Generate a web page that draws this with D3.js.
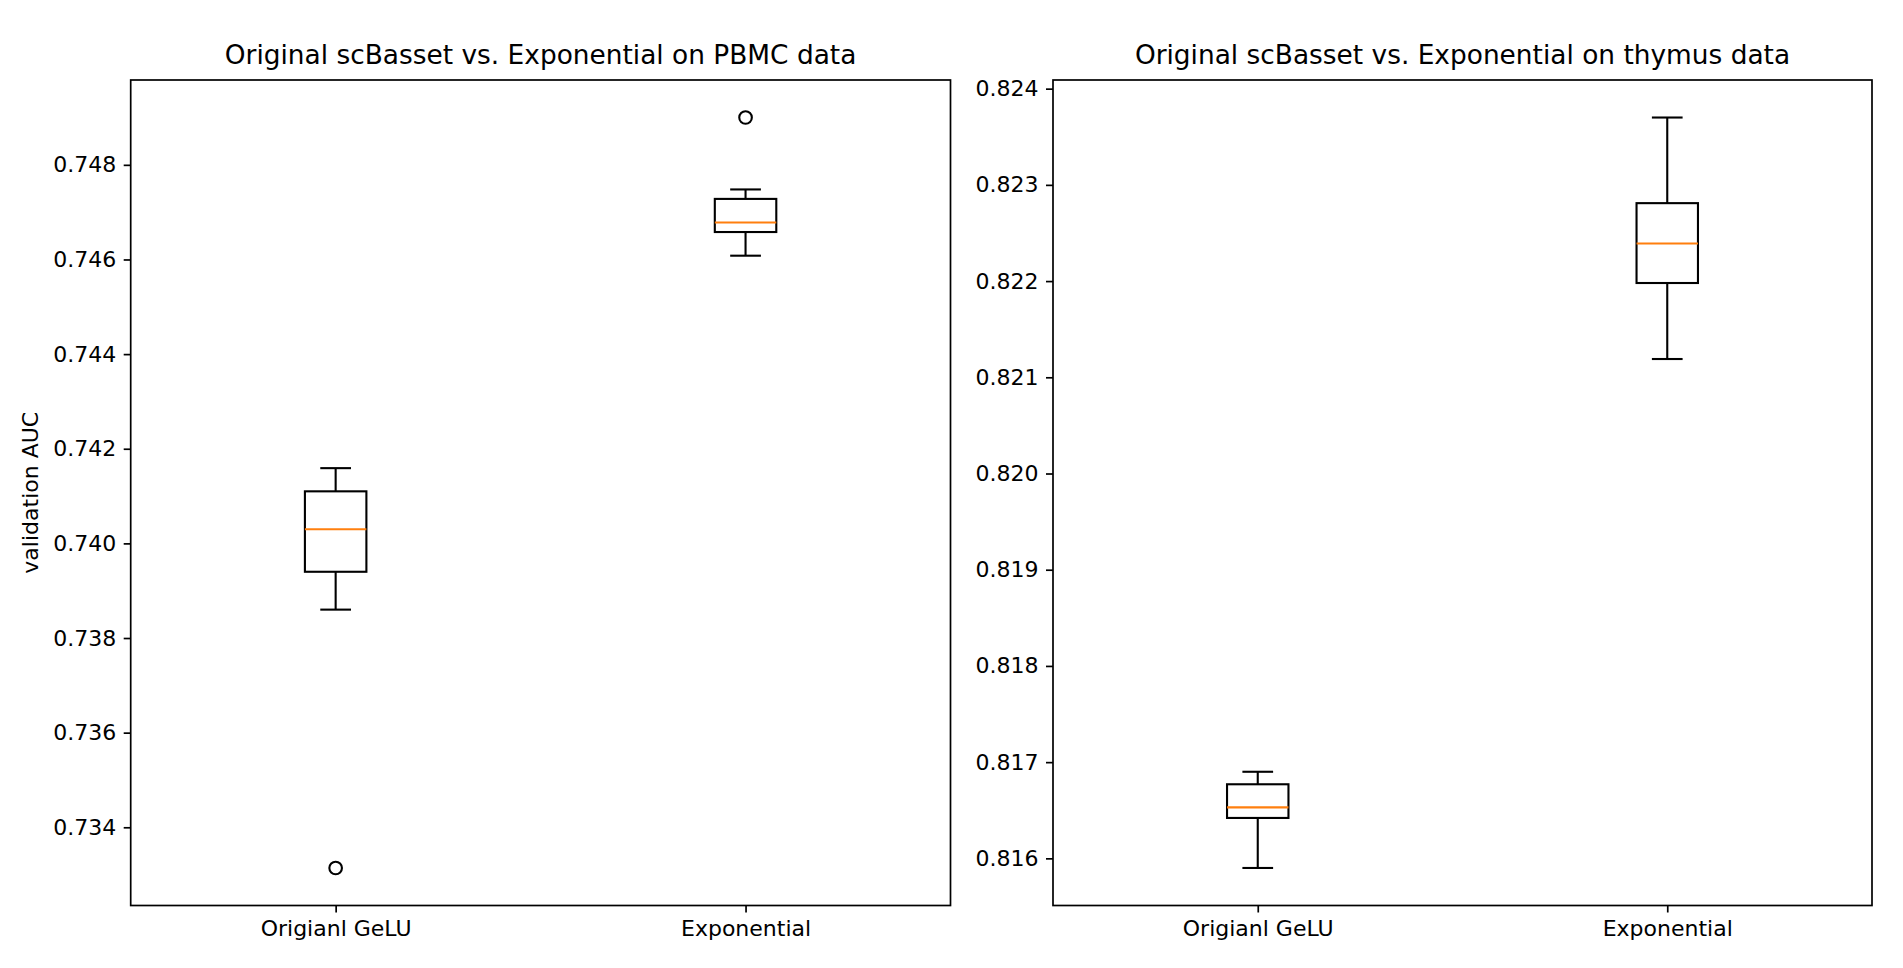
<!DOCTYPE html>
<html>
<head>
<meta charset="utf-8">
<script src="https://cdn.jsdelivr.net/npm/d3@7"></script>
<style>
  body { margin: 0; background: #fff; }
  svg text { font-family: "DejaVu Sans", sans-serif; fill: #000; }
</style>
</head>
<body>
<svg id="chart" width="1903" height="968"></svg>
<script>
// categories
const groups = ["Origianl GeLU", "Exponential"];

// PBMC panel: box stats per group
const pbmcWhiskerLow  = [0.7386, 0.74608];
const pbmcQ1          = [0.7394, 0.74658];
const pbmcMedian      = [0.7403, 0.74678];
const pbmcQ3          = [0.7411, 0.74728];
const pbmcWhiskerHigh = [0.74159, 0.74748];
const pbmcOutliers    = [[0.73314], [0.74900]];
const pbmcTicks       = [0.734, 0.736, 0.738, 0.740, 0.742, 0.744, 0.746, 0.748];

// thymus panel
const thymusWhiskerLow  = [0.81590, 0.82119];
const thymusQ1          = [0.81642, 0.82198];
const thymusMedian      = [0.81653, 0.82239];
const thymusQ3          = [0.81677, 0.82281];
const thymusWhiskerHigh = [0.81690, 0.82370];
const thymusOutliers    = [[], []];
const thymusTicks       = [0.816, 0.817, 0.818, 0.819, 0.820, 0.821, 0.822, 0.823, 0.824];

const svg = d3.select('#chart');
const top_y = 80, bottom_y = 905.5;
const fontSize = 22;
const pt = 2.1;

function drawPanel(left, right, title, lo, q1, med, q3, hi, outl, ticks, ylabel) {
    const boxes = groups.map((g, i) => ({
        name: g, pos: i + 1, lo: lo[i], q1: q1[i], med: med[i], q3: q3[i], hi: hi[i], out: outl[i]
    }));
    const all = boxes.flatMap(b => [b.lo, b.hi].concat(b.out));
    const mn = d3.min(all), mx = d3.max(all);
    const pad = (mx - mn) * 0.05;

    const x = d3.scaleLinear().domain([0.5, 2.5]).range([left, right]);
    const y = d3.scaleLinear().domain([mn - pad, mx + pad]).range([bottom_y, top_y]);
    const bw = x(1.075) - x(0.925);

    const g = svg.append('g');

    boxes.forEach(b => {
        const cx = x(b.pos);
        // whiskers
        g.append('line').attr('x1', cx).attr('x2', cx).attr('y1', y(b.q1)).attr('y2', y(b.lo))
            .attr('stroke', '#000').attr('stroke-width', pt);
        g.append('line').attr('x1', cx).attr('x2', cx).attr('y1', y(b.q3)).attr('y2', y(b.hi))
            .attr('stroke', '#000').attr('stroke-width', pt);
        // caps
        [b.lo, b.hi].forEach(v => {
            g.append('line').attr('x1', cx - bw / 4).attr('x2', cx + bw / 4)
                .attr('y1', y(v)).attr('y2', y(v))
                .attr('stroke', '#000').attr('stroke-width', pt);
        });
        // box
        g.append('rect').attr('x', cx - bw / 2).attr('width', bw)
            .attr('y', y(b.q3)).attr('height', y(b.q1) - y(b.q3))
            .attr('fill', 'none').attr('stroke', '#000').attr('stroke-width', pt);
        // median
        g.append('line').attr('x1', cx - bw / 2).attr('x2', cx + bw / 2)
            .attr('y1', y(b.med)).attr('y2', y(b.med))
            .attr('stroke', '#ff7f0e').attr('stroke-width', pt);
        // fliers
        g.selectAll(null).data(b.out).enter().append('circle')
            .attr('cx', cx).attr('cy', d => y(d)).attr('r', 6.3)
            .attr('fill', 'none').attr('stroke', '#000').attr('stroke-width', pt);
    });

    // axes
    const yAxis = d3.axisLeft(y).tickValues(ticks).tickFormat(d3.format('.3f'))
        .tickSize(7).tickPadding(7.5);
    const gy = svg.append('g').attr('transform', `translate(${left},0)`).call(yAxis);
    gy.select('.domain').remove();
    gy.selectAll('.tick line').attr('stroke-width', 1.7);
    gy.selectAll('.tick text').attr('font-size', fontSize).attr('font-family', 'DejaVu Sans');

    const xAxis = d3.axisBottom(x).tickValues([1, 2]).tickFormat((d, i) => groups[i])
        .tickSize(7).tickPadding(7.5);
    const gx = svg.append('g').attr('transform', `translate(0,${bottom_y})`).call(xAxis);
    gx.select('.domain').remove();
    gx.selectAll('.tick line').attr('stroke-width', 1.7);
    gx.selectAll('.tick text').attr('font-size', fontSize).attr('font-family', 'DejaVu Sans');

    // frame
    svg.append('rect').attr('x', left).attr('y', top_y)
        .attr('width', right - left).attr('height', bottom_y - top_y)
        .attr('fill', 'none').attr('stroke', '#000').attr('stroke-width', 1.7);

    svg.append('text')
        .attr('x', (left + right) / 2).attr('y', 64)
        .attr('text-anchor', 'middle').attr('font-size', fontSize * 1.2)
        .text(title);

    if (ylabel) {
        svg.append('text')
            .attr('transform', `translate(30,${(top_y + bottom_y) / 2}) rotate(-90)`)
            .attr('text-anchor', 'middle').attr('dy', '0.35em')
            .attr('font-size', fontSize)
            .text(ylabel);
    }
}

drawPanel(130.7, 950.5, 'Original scBasset vs. Exponential on PBMC data',
    pbmcWhiskerLow, pbmcQ1, pbmcMedian, pbmcQ3, pbmcWhiskerHigh, pbmcOutliers, pbmcTicks, 'validation AUC');
drawPanel(1053, 1872, 'Original scBasset vs. Exponential on thymus data',
    thymusWhiskerLow, thymusQ1, thymusMedian, thymusQ3, thymusWhiskerHigh, thymusOutliers, thymusTicks, null);
</script>
</body>
</html>
